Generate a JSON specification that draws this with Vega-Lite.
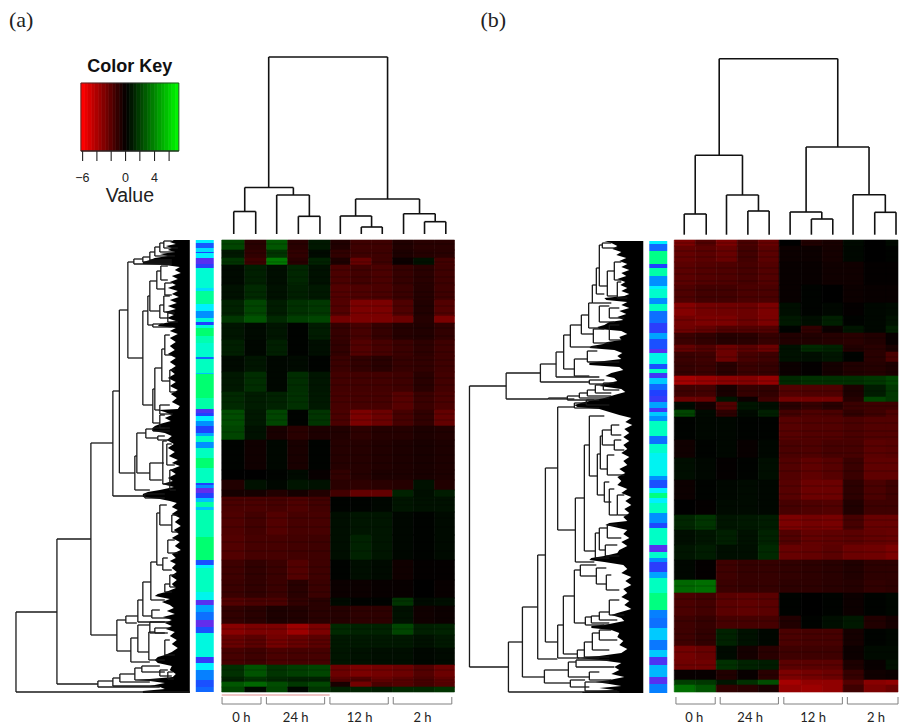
{"$schema":"https://vega.github.io/schema/vega-lite/v6.json","width":899,"height":726,"padding":0,"autosize":{"type":"fit","contains":"padding"},"background":"white","config":{"axis":{"disable":true},"legend":{"disable":true},"view":{"stroke":null}},"resolve":{"scale":{"color":"independent","stroke":"independent"}},
"datasets":{
"colsA":[{"c":1,"x":222,"x2":245},{"c":2,"x":245,"x2":267},{"c":3,"x":267,"x2":288},{"c":4,"x":288,"x2":309},{"c":5,"x":309,"x2":331},{"c":6,"x":331,"x2":351},{"c":7,"x":351,"x2":372},{"c":8,"x":372,"x2":393},{"c":9,"x":393,"x2":414},{"c":10,"x":414,"x2":435},{"c":11,"x":435,"x2":455}],
"colsB":[{"c":1,"x":675,"x2":696},{"c":2,"x":696,"x2":717},{"c":3,"x":717,"x2":738},{"c":4,"x":738,"x2":759},{"c":5,"x":759,"x2":780},{"c":6,"x":780,"x2":802},{"c":7,"x":802,"x2":823},{"c":8,"x":823,"x2":844},{"c":9,"x":844,"x2":865},{"c":10,"x":865,"x2":887},{"c":11,"x":887,"x2":899}],
"bandsA":[{"r":1,"y":240,"y2":250},{"r":2,"y":250,"y2":258},{"r":3,"y":258,"y2":265},{"r":4,"y":265,"y2":285},{"r":5,"y":285,"y2":300},{"r":6,"y":300,"y2":316},{"r":7,"y":316,"y2":323},{"r":8,"y":323,"y2":340},{"r":9,"y":340,"y2":356},{"r":10,"y":356,"y2":372},{"r":11,"y":372,"y2":392},{"r":12,"y":392,"y2":410},{"r":13,"y":410,"y2":426},{"r":14,"y":426,"y2":440},{"r":15,"y":440,"y2":470},{"r":16,"y":470,"y2":480},{"r":17,"y":480,"y2":490},{"r":18,"y":490,"y2":497},{"r":19,"y":497,"y2":512},{"r":20,"y":512,"y2":535},{"r":21,"y":535,"y2":560},{"r":22,"y":560,"y2":580},{"r":23,"y":580,"y2":598},{"r":24,"y":598,"y2":606},{"r":25,"y":606,"y2":624},{"r":26,"y":624,"y2":635},{"r":27,"y":635,"y2":648},{"r":28,"y":648,"y2":665},{"r":29,"y":665,"y2":677},{"r":30,"y":677,"y2":682},{"r":31,"y":682,"y2":687},{"r":32,"y":687,"y2":692}],
"bandsB":[{"r":1,"y":240,"y2":246},{"r":2,"y":246,"y2":262},{"r":3,"y":262,"y2":285},{"r":4,"y":285,"y2":303},{"r":5,"y":303,"y2":316},{"r":6,"y":316,"y2":326},{"r":7,"y":326,"y2":333},{"r":8,"y":333,"y2":345},{"r":9,"y":345,"y2":352},{"r":10,"y":352,"y2":362},{"r":11,"y":362,"y2":376},{"r":12,"y":376,"y2":385},{"r":13,"y":385,"y2":397},{"r":14,"y":397,"y2":402},{"r":15,"y":402,"y2":410},{"r":16,"y":410,"y2":417},{"r":17,"y":417,"y2":440},{"r":18,"y":440,"y2":458},{"r":19,"y":458,"y2":480},{"r":20,"y":480,"y2":500},{"r":21,"y":500,"y2":515},{"r":22,"y":515,"y2":530},{"r":23,"y":530,"y2":545},{"r":24,"y":545,"y2":560},{"r":25,"y":560,"y2":580},{"r":26,"y":580,"y2":593},{"r":27,"y":593,"y2":616},{"r":28,"y":616,"y2":629},{"r":29,"y":629,"y2":646},{"r":30,"y":646,"y2":660},{"r":31,"y":660,"y2":670},{"r":32,"y":670,"y2":680},{"r":33,"y":680,"y2":685},{"r":34,"y":685,"y2":692}],
"cellsA":[
{"r":1,"c":1,"v":2},{"r":1,"c":2,"v":-1},{"r":1,"c":3,"v":2.5},{"r":1,"c":4,"v":-1},{"r":1,"c":5,"v":0.7},{"r":1,"c":6,"v":-0.8},{"r":1,"c":7,"v":-1.5},{"r":1,"c":8,"v":-1.5},{"r":1,"c":9,"v":-0.8},{"r":1,"c":10,"v":-1},{"r":1,"c":11,"v":-1},
{"r":2,"c":1,"v":0.7},{"r":2,"c":2,"v":-1.2},{"r":2,"c":3,"v":1.5},{"r":2,"c":4,"v":-1.2},{"r":2,"c":5,"v":0.3},{"r":2,"c":6,"v":-1.2},{"r":2,"c":7,"v":-1.5},{"r":2,"c":8,"v":-1.5},{"r":2,"c":9,"v":-0.7},{"r":2,"c":10,"v":-0.9},{"r":2,"c":11,"v":-1},
{"r":3,"c":1,"v":1.5},{"r":3,"c":2,"v":-1.5},{"r":3,"c":3,"v":3.5},{"r":3,"c":4,"v":-1},{"r":3,"c":5,"v":1},{"r":3,"c":6,"v":-0.7},{"r":3,"c":7,"v":-2.5},{"r":3,"c":8,"v":-1.5},{"r":3,"c":9,"v":-0.3},{"r":3,"c":10,"v":0.5},{"r":3,"c":11,"v":-1.6},
{"r":4,"c":1,"v":0.3},{"r":4,"c":2,"v":0.9},{"r":4,"c":3,"v":0.4},{"r":4,"c":4,"v":1.1},{"r":4,"c":5,"v":0.5},{"r":4,"c":6,"v":-1.8},{"r":4,"c":7,"v":-1.6},{"r":4,"c":8,"v":-1.8},{"r":4,"c":9,"v":-1.3},{"r":4,"c":10,"v":-1},{"r":4,"c":11,"v":-1.5},
{"r":5,"c":1,"v":0.5},{"r":5,"c":2,"v":1.2},{"r":5,"c":3,"v":0.5},{"r":5,"c":4,"v":0.9},{"r":5,"c":5,"v":0.7},{"r":5,"c":6,"v":-2},{"r":5,"c":7,"v":-1.9},{"r":5,"c":8,"v":-1.8},{"r":5,"c":9,"v":-1.4},{"r":5,"c":10,"v":-0.9},{"r":5,"c":11,"v":-1.5},
{"r":6,"c":1,"v":1},{"r":6,"c":2,"v":2},{"r":6,"c":3,"v":0.8},{"r":6,"c":4,"v":1.4},{"r":6,"c":5,"v":1.6},{"r":6,"c":6,"v":-2},{"r":6,"c":7,"v":-3},{"r":6,"c":8,"v":-3},{"r":6,"c":9,"v":-1.9},{"r":6,"c":10,"v":-0.8},{"r":6,"c":11,"v":-2},
{"r":7,"c":1,"v":1.6},{"r":7,"c":2,"v":2.4},{"r":7,"c":3,"v":1.2},{"r":7,"c":4,"v":1.8},{"r":7,"c":5,"v":2},{"r":7,"c":6,"v":-2.8},{"r":7,"c":7,"v":-3},{"r":7,"c":8,"v":-3},{"r":7,"c":9,"v":-2.6},{"r":7,"c":10,"v":-0.9},{"r":7,"c":11,"v":-3},
{"r":8,"c":1,"v":0.6},{"r":8,"c":2,"v":0.3},{"r":8,"c":3,"v":0.6},{"r":8,"c":4,"v":0.1},{"r":8,"c":5,"v":0.8},{"r":8,"c":6,"v":-1.3},{"r":8,"c":7,"v":-1.7},{"r":8,"c":8,"v":-1.3},{"r":8,"c":9,"v":-0.9},{"r":8,"c":10,"v":-0.8},{"r":8,"c":11,"v":-1.2},
{"r":9,"c":1,"v":0.9},{"r":9,"c":2,"v":0.2},{"r":9,"c":3,"v":0.9},{"r":9,"c":4,"v":0.1},{"r":9,"c":5,"v":0.4},{"r":9,"c":6,"v":-1.2},{"r":9,"c":7,"v":-2},{"r":9,"c":8,"v":-1.7},{"r":9,"c":9,"v":-1.4},{"r":9,"c":10,"v":-1.1},{"r":9,"c":11,"v":-1.5},
{"r":10,"c":1,"v":0.3},{"r":10,"c":2,"v":0.6},{"r":10,"c":3,"v":0.2},{"r":10,"c":4,"v":0.3},{"r":10,"c":5,"v":0.1},{"r":10,"c":6,"v":-1.4},{"r":10,"c":7,"v":-1.2},{"r":10,"c":8,"v":-1},{"r":10,"c":9,"v":-1.3},{"r":10,"c":10,"v":-1.2},{"r":10,"c":11,"v":-1.5},
{"r":11,"c":1,"v":0.7},{"r":11,"c":2,"v":1.3},{"r":11,"c":3,"v":0.2},{"r":11,"c":4,"v":1.3},{"r":11,"c":5,"v":0.6},{"r":11,"c":6,"v":-1.6},{"r":11,"c":7,"v":-1.6},{"r":11,"c":8,"v":-1.6},{"r":11,"c":9,"v":-1.5},{"r":11,"c":10,"v":-1},{"r":11,"c":11,"v":-1.6},
{"r":12,"c":1,"v":1.2},{"r":12,"c":2,"v":0.8},{"r":12,"c":3,"v":1},{"r":12,"c":4,"v":1.4},{"r":12,"c":5,"v":0.7},{"r":12,"c":6,"v":-1.7},{"r":12,"c":7,"v":-1.7},{"r":12,"c":8,"v":-1.7},{"r":12,"c":9,"v":-2.1},{"r":12,"c":10,"v":-1.4},{"r":12,"c":11,"v":-1.8},
{"r":13,"c":1,"v":2.2},{"r":13,"c":2,"v":0.7},{"r":13,"c":3,"v":2},{"r":13,"c":4,"v":0.1},{"r":13,"c":5,"v":1.5},{"r":13,"c":6,"v":-1.8},{"r":13,"c":7,"v":-3},{"r":13,"c":8,"v":-2.6},{"r":13,"c":9,"v":-1.7},{"r":13,"c":10,"v":-1.2},{"r":13,"c":11,"v":-2.4},
{"r":14,"c":1,"v":2},{"r":14,"c":2,"v":0.5},{"r":14,"c":3,"v":-0.6},{"r":14,"c":4,"v":-1},{"r":14,"c":5,"v":-0.7},{"r":14,"c":6,"v":-0.8},{"r":14,"c":7,"v":-1.1},{"r":14,"c":8,"v":-0.9},{"r":14,"c":9,"v":-0.9},{"r":14,"c":10,"v":-0.7},{"r":14,"c":11,"v":-0.8},
{"r":15,"c":1,"v":0.1},{"r":15,"c":2,"v":-0.4},{"r":15,"c":3,"v":0.2},{"r":15,"c":4,"v":-0.6},{"r":15,"c":5,"v":0.1},{"r":15,"c":6,"v":-0.9},{"r":15,"c":7,"v":-0.9},{"r":15,"c":8,"v":-0.8},{"r":15,"c":9,"v":-0.7},{"r":15,"c":10,"v":-0.6},{"r":15,"c":11,"v":-0.7},
{"r":16,"c":1,"v":0},{"r":16,"c":2,"v":0},{"r":16,"c":3,"v":0.1},{"r":16,"c":4,"v":0.3},{"r":16,"c":5,"v":-0.2},{"r":16,"c":6,"v":-1.2},{"r":16,"c":7,"v":-0.9},{"r":16,"c":8,"v":-0.7},{"r":16,"c":9,"v":-0.7},{"r":16,"c":10,"v":-0.6},{"r":16,"c":11,"v":-0.7},
{"r":17,"c":1,"v":-0.8},{"r":17,"c":2,"v":0.5},{"r":17,"c":3,"v":0.2},{"r":17,"c":4,"v":0.6},{"r":17,"c":5,"v":0.5},{"r":17,"c":6,"v":-1},{"r":17,"c":7,"v":-1.1},{"r":17,"c":8,"v":-1},{"r":17,"c":9,"v":-0.9},{"r":17,"c":10,"v":0.5},{"r":17,"c":11,"v":-0.8},
{"r":18,"c":1,"v":-0.5},{"r":18,"c":2,"v":-0.5},{"r":18,"c":3,"v":-0.8},{"r":18,"c":4,"v":-0.5},{"r":18,"c":5,"v":-0.8},{"r":18,"c":6,"v":-1.6},{"r":18,"c":7,"v":-2.4},{"r":18,"c":8,"v":-2.4},{"r":18,"c":9,"v":1},{"r":18,"c":10,"v":0.4},{"r":18,"c":11,"v":0.8},
{"r":19,"c":1,"v":-1.8},{"r":19,"c":2,"v":-1.8},{"r":19,"c":3,"v":-1.7},{"r":19,"c":4,"v":-1.9},{"r":19,"c":5,"v":-1.6},{"r":19,"c":6,"v":0.1},{"r":19,"c":7,"v":0.1},{"r":19,"c":8,"v":0.2},{"r":19,"c":9,"v":0.6},{"r":19,"c":10,"v":0.5},{"r":19,"c":11,"v":0.5},
{"r":20,"c":1,"v":-1.9},{"r":20,"c":2,"v":-1.6},{"r":20,"c":3,"v":-2},{"r":20,"c":4,"v":-1.7},{"r":20,"c":5,"v":-1.7},{"r":20,"c":6,"v":0.4},{"r":20,"c":7,"v":0.6},{"r":20,"c":8,"v":0.6},{"r":20,"c":9,"v":0.2},{"r":20,"c":10,"v":0.1},{"r":20,"c":11,"v":0.3},
{"r":21,"c":1,"v":-2},{"r":21,"c":2,"v":-1.7},{"r":21,"c":3,"v":-1.7},{"r":21,"c":4,"v":-1.6},{"r":21,"c":5,"v":-1.5},{"r":21,"c":6,"v":0.4},{"r":21,"c":7,"v":1},{"r":21,"c":8,"v":0.6},{"r":21,"c":9,"v":0.2},{"r":21,"c":10,"v":0.1},{"r":21,"c":11,"v":0.3},
{"r":22,"c":1,"v":-1.5},{"r":22,"c":2,"v":-1.2},{"r":22,"c":3,"v":-1.4},{"r":22,"c":4,"v":-2},{"r":22,"c":5,"v":-1.5},{"r":22,"c":6,"v":0.1},{"r":22,"c":7,"v":0.4},{"r":22,"c":8,"v":0.3},{"r":22,"c":9,"v":-0.4},{"r":22,"c":10,"v":-0.1},{"r":22,"c":11,"v":-0.1},
{"r":23,"c":1,"v":-1.4},{"r":23,"c":2,"v":-1.2},{"r":23,"c":3,"v":-1.4},{"r":23,"c":4,"v":-1},{"r":23,"c":5,"v":-1.4},{"r":23,"c":6,"v":-0.3},{"r":23,"c":7,"v":-0.3},{"r":23,"c":8,"v":-0.2},{"r":23,"c":9,"v":-0.2},{"r":23,"c":10,"v":0},{"r":23,"c":11,"v":-0.2},
{"r":24,"c":1,"v":-2},{"r":24,"c":2,"v":-1.8},{"r":24,"c":3,"v":-1.8},{"r":24,"c":4,"v":-1.2},{"r":24,"c":5,"v":-1},{"r":24,"c":6,"v":0.3},{"r":24,"c":7,"v":0.1},{"r":24,"c":8,"v":0.1},{"r":24,"c":9,"v":1.5},{"r":24,"c":10,"v":0.3},{"r":24,"c":11,"v":0.4},
{"r":25,"c":1,"v":-1.2},{"r":25,"c":2,"v":-1},{"r":25,"c":3,"v":-0.7},{"r":25,"c":4,"v":-0.8},{"r":25,"c":5,"v":-1},{"r":25,"c":6,"v":-0.9},{"r":25,"c":7,"v":-1.1},{"r":25,"c":8,"v":-1.1},{"r":25,"c":9,"v":0.5},{"r":25,"c":10,"v":-0.4},{"r":25,"c":11,"v":-0.3},
{"r":26,"c":1,"v":-3.3},{"r":26,"c":2,"v":-3},{"r":26,"c":3,"v":-3},{"r":26,"c":4,"v":-3.8},{"r":26,"c":5,"v":-3},{"r":26,"c":6,"v":1.2},{"r":26,"c":7,"v":1},{"r":26,"c":8,"v":1},{"r":26,"c":9,"v":2},{"r":26,"c":10,"v":0.9},{"r":26,"c":11,"v":1},
{"r":27,"c":1,"v":-2.5},{"r":27,"c":2,"v":-2.2},{"r":27,"c":3,"v":-2.8},{"r":27,"c":4,"v":-2.5},{"r":27,"c":5,"v":-2.2},{"r":27,"c":6,"v":0.7},{"r":27,"c":7,"v":0.7},{"r":27,"c":8,"v":0.7},{"r":27,"c":9,"v":0.7},{"r":27,"c":10,"v":0.5},{"r":27,"c":11,"v":0.7},
{"r":28,"c":1,"v":-1.7},{"r":28,"c":2,"v":-1.5},{"r":28,"c":3,"v":-1.8},{"r":28,"c":4,"v":-1.7},{"r":28,"c":5,"v":-1.7},{"r":28,"c":6,"v":0.6},{"r":28,"c":7,"v":0.5},{"r":28,"c":8,"v":0.4},{"r":28,"c":9,"v":0.4},{"r":28,"c":10,"v":0.2},{"r":28,"c":11,"v":0.3},
{"r":29,"c":1,"v":1.4},{"r":29,"c":2,"v":2.4},{"r":29,"c":3,"v":1.5},{"r":29,"c":4,"v":1.8},{"r":29,"c":5,"v":2},{"r":29,"c":6,"v":-2.6},{"r":29,"c":7,"v":-3},{"r":29,"c":8,"v":-2.8},{"r":29,"c":9,"v":-2.6},{"r":29,"c":10,"v":-2},{"r":29,"c":11,"v":-2.6},
{"r":30,"c":1,"v":1},{"r":30,"c":2,"v":1.5},{"r":30,"c":3,"v":1.2},{"r":30,"c":4,"v":1},{"r":30,"c":5,"v":1},{"r":30,"c":6,"v":-2.2},{"r":30,"c":7,"v":-2},{"r":30,"c":8,"v":-2.5},{"r":30,"c":9,"v":-2.2},{"r":30,"c":10,"v":-1.8},{"r":30,"c":11,"v":-2.3},
{"r":31,"c":1,"v":2.5},{"r":31,"c":2,"v":3},{"r":31,"c":3,"v":2.2},{"r":31,"c":4,"v":1.6},{"r":31,"c":5,"v":2},{"r":31,"c":6,"v":-0.6},{"r":31,"c":7,"v":-2.8},{"r":31,"c":8,"v":-1.8},{"r":31,"c":9,"v":-2},{"r":31,"c":10,"v":-1.6},{"r":31,"c":11,"v":-2},
{"r":32,"c":1,"v":2},{"r":32,"c":2,"v":0.3},{"r":32,"c":3,"v":2},{"r":32,"c":4,"v":0.2},{"r":32,"c":5,"v":1.5},{"r":32,"c":6,"v":1},{"r":32,"c":7,"v":1},{"r":32,"c":8,"v":0.8},{"r":32,"c":9,"v":1.2},{"r":32,"c":10,"v":1.2},{"r":32,"c":11,"v":1.5}
],
"cellsB":[
{"r":1,"c":1,"v":-3},{"r":1,"c":2,"v":-2},{"r":1,"c":3,"v":-3},{"r":1,"c":4,"v":-1.8},{"r":1,"c":5,"v":-2.5},{"r":1,"c":6,"v":0},{"r":1,"c":7,"v":-0.8},{"r":1,"c":8,"v":-0.6},{"r":1,"c":9,"v":0.3},{"r":1,"c":10,"v":0},{"r":1,"c":11,"v":0.3},
{"r":2,"c":1,"v":-2.4},{"r":2,"c":2,"v":-2.2},{"r":2,"c":3,"v":-2.5},{"r":2,"c":4,"v":-1.6},{"r":2,"c":5,"v":-2.2},{"r":2,"c":6,"v":-0.3},{"r":2,"c":7,"v":-0.3},{"r":2,"c":8,"v":-0.5},{"r":2,"c":9,"v":0.2},{"r":2,"c":10,"v":0},{"r":2,"c":11,"v":0.1},
{"r":3,"c":1,"v":-2.2},{"r":3,"c":2,"v":-2},{"r":3,"c":3,"v":-1.9},{"r":3,"c":4,"v":-1.7},{"r":3,"c":5,"v":-2},{"r":3,"c":6,"v":-0.2},{"r":3,"c":7,"v":-0.2},{"r":3,"c":8,"v":-0.4},{"r":3,"c":9,"v":-0.4},{"r":3,"c":10,"v":-0.1},{"r":3,"c":11,"v":-0.1},
{"r":4,"c":1,"v":-1.9},{"r":4,"c":2,"v":-1.6},{"r":4,"c":3,"v":-1.6},{"r":4,"c":4,"v":-1.8},{"r":4,"c":5,"v":-1.8},{"r":4,"c":6,"v":-0.2},{"r":4,"c":7,"v":0.1},{"r":4,"c":8,"v":0},{"r":4,"c":9,"v":-0.3},{"r":4,"c":10,"v":-0.2},{"r":4,"c":11,"v":-0.2},
{"r":5,"c":1,"v":-3.2},{"r":5,"c":2,"v":-2.8},{"r":5,"c":3,"v":-2.7},{"r":5,"c":4,"v":-2.6},{"r":5,"c":5,"v":-3},{"r":5,"c":6,"v":0.4},{"r":5,"c":7,"v":0.1},{"r":5,"c":8,"v":0.2},{"r":5,"c":9,"v":-0.1},{"r":5,"c":10,"v":0.2},{"r":5,"c":11,"v":0.3},
{"r":6,"c":1,"v":-2.8},{"r":6,"c":2,"v":-3},{"r":6,"c":3,"v":-3},{"r":6,"c":4,"v":-2.6},{"r":6,"c":5,"v":-3},{"r":6,"c":6,"v":0.7},{"r":6,"c":7,"v":0.4},{"r":6,"c":8,"v":0.9},{"r":6,"c":9,"v":0.1},{"r":6,"c":10,"v":0.2},{"r":6,"c":11,"v":0.5},
{"r":7,"c":1,"v":-2.7},{"r":7,"c":2,"v":-2.4},{"r":7,"c":3,"v":-2},{"r":7,"c":4,"v":-2},{"r":7,"c":5,"v":-2},{"r":7,"c":6,"v":0.1},{"r":7,"c":7,"v":-1.2},{"r":7,"c":8,"v":-0.3},{"r":7,"c":9,"v":0.6},{"r":7,"c":10,"v":0.2},{"r":7,"c":11,"v":0.9},
{"r":8,"c":1,"v":-1.4},{"r":8,"c":2,"v":-1.2},{"r":8,"c":3,"v":-0.9},{"r":8,"c":4,"v":-1},{"r":8,"c":5,"v":-1.3},{"r":8,"c":6,"v":-0.8},{"r":8,"c":7,"v":-0.8},{"r":8,"c":8,"v":-0.9},{"r":8,"c":9,"v":-1},{"r":8,"c":10,"v":-0.8},{"r":8,"c":11,"v":-0.2},
{"r":9,"c":1,"v":-2.4},{"r":9,"c":2,"v":-2},{"r":9,"c":3,"v":-2.6},{"r":9,"c":4,"v":-2.2},{"r":9,"c":5,"v":-2.6},{"r":9,"c":6,"v":0.5},{"r":9,"c":7,"v":1.2},{"r":9,"c":8,"v":1},{"r":9,"c":9,"v":-0.8},{"r":9,"c":10,"v":-1},{"r":9,"c":11,"v":-0.6},
{"r":10,"c":1,"v":-1.4},{"r":10,"c":2,"v":-1.5},{"r":10,"c":3,"v":-2.6},{"r":10,"c":4,"v":-1.7},{"r":10,"c":5,"v":-1.5},{"r":10,"c":6,"v":0.5},{"r":10,"c":7,"v":0.4},{"r":10,"c":8,"v":0.6},{"r":10,"c":9,"v":0.1},{"r":10,"c":10,"v":-1},{"r":10,"c":11,"v":-1.8},
{"r":11,"c":1,"v":-1.3},{"r":11,"c":2,"v":-1.4},{"r":11,"c":3,"v":-1},{"r":11,"c":4,"v":-1.4},{"r":11,"c":5,"v":-1.3},{"r":11,"c":6,"v":-0.3},{"r":11,"c":7,"v":-0.1},{"r":11,"c":8,"v":-0.5},{"r":11,"c":9,"v":-0.8},{"r":11,"c":10,"v":-0.9},{"r":11,"c":11,"v":-0.7},
{"r":12,"c":1,"v":-4},{"r":12,"c":2,"v":-3.7},{"r":12,"c":3,"v":-3.4},{"r":12,"c":4,"v":-3.2},{"r":12,"c":5,"v":-3.6},{"r":12,"c":6,"v":1.2},{"r":12,"c":7,"v":1.4},{"r":12,"c":8,"v":1.4},{"r":12,"c":9,"v":1.4},{"r":12,"c":10,"v":1.6},{"r":12,"c":11,"v":2},
{"r":13,"c":1,"v":-1.5},{"r":13,"c":2,"v":-1.6},{"r":13,"c":3,"v":-0.6},{"r":13,"c":4,"v":-1.3},{"r":13,"c":5,"v":-1.2},{"r":13,"c":6,"v":-2},{"r":13,"c":7,"v":-1.9},{"r":13,"c":8,"v":-1.9},{"r":13,"c":9,"v":-0.7},{"r":13,"c":10,"v":0.8},{"r":13,"c":11,"v":1.6},
{"r":14,"c":1,"v":-2.6},{"r":14,"c":2,"v":-2.5},{"r":14,"c":3,"v":0.6},{"r":14,"c":4,"v":-0.3},{"r":14,"c":5,"v":-1.5},{"r":14,"c":6,"v":-2.8},{"r":14,"c":7,"v":-2.8},{"r":14,"c":8,"v":-2.8},{"r":14,"c":9,"v":-0.9},{"r":14,"c":10,"v":2},{"r":14,"c":11,"v":1.6},
{"r":15,"c":1,"v":0.3},{"r":15,"c":2,"v":-0.5},{"r":15,"c":3,"v":-2},{"r":15,"c":4,"v":0.6},{"r":15,"c":5,"v":0.4},{"r":15,"c":6,"v":-1},{"r":15,"c":7,"v":-1.3},{"r":15,"c":8,"v":-1},{"r":15,"c":9,"v":-1.4},{"r":15,"c":10,"v":-1.5},{"r":15,"c":11,"v":-1.5},
{"r":16,"c":1,"v":2},{"r":16,"c":2,"v":0.3},{"r":16,"c":3,"v":-1.1},{"r":16,"c":4,"v":0.3},{"r":16,"c":5,"v":0.9},{"r":16,"c":6,"v":-1.6},{"r":16,"c":7,"v":-1.9},{"r":16,"c":8,"v":-1.8},{"r":16,"c":9,"v":-1.2},{"r":16,"c":10,"v":-1.5},{"r":16,"c":11,"v":-1.9},
{"r":17,"c":1,"v":0.1},{"r":17,"c":2,"v":0.2},{"r":17,"c":3,"v":0.2},{"r":17,"c":4,"v":0.1},{"r":17,"c":5,"v":0.1},{"r":17,"c":6,"v":-2.1},{"r":17,"c":7,"v":-2},{"r":17,"c":8,"v":-2},{"r":17,"c":9,"v":-1.8},{"r":17,"c":10,"v":-2},{"r":17,"c":11,"v":-2},
{"r":18,"c":1,"v":-0.4},{"r":18,"c":2,"v":0.1},{"r":18,"c":3,"v":0.2},{"r":18,"c":4,"v":-0.2},{"r":18,"c":5,"v":0.2},{"r":18,"c":6,"v":-1.8},{"r":18,"c":7,"v":-1.9},{"r":18,"c":8,"v":-1.7},{"r":18,"c":9,"v":-1.7},{"r":18,"c":10,"v":-2.2},{"r":18,"c":11,"v":-2.1},
{"r":19,"c":1,"v":0.4},{"r":19,"c":2,"v":0.2},{"r":19,"c":3,"v":-0.1},{"r":19,"c":4,"v":0.1},{"r":19,"c":5,"v":0.4},{"r":19,"c":6,"v":-2},{"r":19,"c":7,"v":-2.3},{"r":19,"c":8,"v":-2.1},{"r":19,"c":9,"v":-1.4},{"r":19,"c":10,"v":-2.3},{"r":19,"c":11,"v":-2.3},
{"r":20,"c":1,"v":-0.3},{"r":20,"c":2,"v":0.1},{"r":20,"c":3,"v":0.2},{"r":20,"c":4,"v":0.3},{"r":20,"c":5,"v":0.2},{"r":20,"c":6,"v":-2.1},{"r":20,"c":7,"v":-2.6},{"r":20,"c":8,"v":-2.6},{"r":20,"c":9,"v":-1.1},{"r":20,"c":10,"v":-1.8},{"r":20,"c":11,"v":-1.5},
{"r":21,"c":1,"v":0},{"r":21,"c":2,"v":-0.1},{"r":21,"c":3,"v":0.3},{"r":21,"c":4,"v":0.3},{"r":21,"c":5,"v":0.2},{"r":21,"c":6,"v":-1.7},{"r":21,"c":7,"v":-1.9},{"r":21,"c":8,"v":-2},{"r":21,"c":9,"v":-0.8},{"r":21,"c":10,"v":-1.5},{"r":21,"c":11,"v":-1.5},
{"r":22,"c":1,"v":1.1},{"r":22,"c":2,"v":1.5},{"r":22,"c":3,"v":0.6},{"r":22,"c":4,"v":0.7},{"r":22,"c":5,"v":0.8},{"r":22,"c":6,"v":-3},{"r":22,"c":7,"v":-2.8},{"r":22,"c":8,"v":-2.9},{"r":22,"c":9,"v":-1.7},{"r":22,"c":10,"v":-2.5},{"r":22,"c":11,"v":-2.5},
{"r":23,"c":1,"v":0.4},{"r":23,"c":2,"v":0.6},{"r":23,"c":3,"v":0.9},{"r":23,"c":4,"v":0.5},{"r":23,"c":5,"v":1},{"r":23,"c":6,"v":-2},{"r":23,"c":7,"v":-2.4},{"r":23,"c":8,"v":-2.3},{"r":23,"c":9,"v":-2.2},{"r":23,"c":10,"v":-2.4},{"r":23,"c":11,"v":-2.5},
{"r":24,"c":1,"v":0.6},{"r":24,"c":2,"v":0.8},{"r":24,"c":3,"v":0.4},{"r":24,"c":4,"v":0.4},{"r":24,"c":5,"v":1.2},{"r":24,"c":6,"v":-2.5},{"r":24,"c":7,"v":-2.4},{"r":24,"c":8,"v":-2.2},{"r":24,"c":9,"v":-2.6},{"r":24,"c":10,"v":-2.7},{"r":24,"c":11,"v":-3},
{"r":25,"c":1,"v":0.2},{"r":25,"c":2,"v":-0.1},{"r":25,"c":3,"v":-1.5},{"r":25,"c":4,"v":-1.3},{"r":25,"c":5,"v":-1.3},{"r":25,"c":6,"v":-1.2},{"r":25,"c":7,"v":-1.1},{"r":25,"c":8,"v":-1},{"r":25,"c":9,"v":-0.8},{"r":25,"c":10,"v":-1.1},{"r":25,"c":11,"v":-1.1},
{"r":26,"c":1,"v":3},{"r":26,"c":2,"v":3.2},{"r":26,"c":3,"v":-1.4},{"r":26,"c":4,"v":-1.3},{"r":26,"c":5,"v":-1.3},{"r":26,"c":6,"v":-1.1},{"r":26,"c":7,"v":-1.1},{"r":26,"c":8,"v":-1},{"r":26,"c":9,"v":-0.9},{"r":26,"c":10,"v":-1.2},{"r":26,"c":11,"v":-1.1},
{"r":27,"c":1,"v":-1.8},{"r":27,"c":2,"v":-1.6},{"r":27,"c":3,"v":-2.2},{"r":27,"c":4,"v":-2.3},{"r":27,"c":5,"v":-2.2},{"r":27,"c":6,"v":0.1},{"r":27,"c":7,"v":0},{"r":27,"c":8,"v":0.1},{"r":27,"c":9,"v":-0.3},{"r":27,"c":10,"v":0.1},{"r":27,"c":11,"v":0.2},
{"r":28,"c":1,"v":-1.5},{"r":28,"c":2,"v":-1.3},{"r":28,"c":3,"v":-1.7},{"r":28,"c":4,"v":-1.7},{"r":28,"c":5,"v":-1.7},{"r":28,"c":6,"v":-0.8},{"r":28,"c":7,"v":0.1},{"r":28,"c":8,"v":0.4},{"r":28,"c":9,"v":0.7},{"r":28,"c":10,"v":-0.8},{"r":28,"c":11,"v":-0.5},
{"r":29,"c":1,"v":-1.5},{"r":29,"c":2,"v":-1.2},{"r":29,"c":3,"v":1},{"r":29,"c":4,"v":0.5},{"r":29,"c":5,"v":0.2},{"r":29,"c":6,"v":-1.8},{"r":29,"c":7,"v":-1.7},{"r":29,"c":8,"v":-1.7},{"r":29,"c":9,"v":-0.5},{"r":29,"c":10,"v":0.1},{"r":29,"c":11,"v":0.2},
{"r":30,"c":1,"v":-2.8},{"r":30,"c":2,"v":-2.5},{"r":30,"c":3,"v":0.3},{"r":30,"c":4,"v":-0.5},{"r":30,"c":5,"v":-1},{"r":30,"c":6,"v":-1.5},{"r":30,"c":7,"v":-1.5},{"r":30,"c":8,"v":-1.5},{"r":30,"c":9,"v":-0.3},{"r":30,"c":10,"v":0.3},{"r":30,"c":11,"v":0.3},
{"r":31,"c":1,"v":-2.7},{"r":31,"c":2,"v":-2.7},{"r":31,"c":3,"v":1.4},{"r":31,"c":4,"v":1},{"r":31,"c":5,"v":0.8},{"r":31,"c":6,"v":-2.2},{"r":31,"c":7,"v":-2.2},{"r":31,"c":8,"v":-2.2},{"r":31,"c":9,"v":-0.7},{"r":31,"c":10,"v":-0.2},{"r":31,"c":11,"v":0.5},
{"r":32,"c":1,"v":-0.2},{"r":32,"c":2,"v":-0.2},{"r":32,"c":3,"v":-0.8},{"r":32,"c":4,"v":-0.2},{"r":32,"c":5,"v":-1},{"r":32,"c":6,"v":-3},{"r":32,"c":7,"v":-2.8},{"r":32,"c":8,"v":-2.6},{"r":32,"c":9,"v":-1.3},{"r":32,"c":10,"v":-0.4},{"r":32,"c":11,"v":-0.3},
{"r":33,"c":1,"v":1.8},{"r":33,"c":2,"v":1.6},{"r":33,"c":3,"v":0.6},{"r":33,"c":4,"v":1.4},{"r":33,"c":5,"v":2.2},{"r":33,"c":6,"v":-4},{"r":33,"c":7,"v":-3.5},{"r":33,"c":8,"v":-3.5},{"r":33,"c":9,"v":-2},{"r":33,"c":10,"v":-3.3},{"r":33,"c":11,"v":-3.5},
{"r":34,"c":1,"v":3.2},{"r":34,"c":2,"v":2.4},{"r":34,"c":3,"v":-1.2},{"r":34,"c":4,"v":-1},{"r":34,"c":5,"v":-0.6},{"r":34,"c":6,"v":-3.6},{"r":34,"c":7,"v":-3.8},{"r":34,"c":8,"v":-3.5},{"r":34,"c":9,"v":-1.5},{"r":34,"c":10,"v":-3},{"r":34,"c":11,"v":-2.6}
],
"stripesA":[{"y":244},{"y":253},{"y":262},{"y":270},{"y":277},{"y":283},{"y":292},{"y":297},{"y":306},{"y":313},{"y":328},{"y":336},{"y":345},{"y":352},{"y":360},{"y":366},{"y":378},{"y":385},{"y":396},{"y":402},{"y":414},{"y":420},{"y":432},{"y":446},{"y":455},{"y":463},{"y":474},{"y":500},{"y":505},{"y":518},{"y":527},{"y":542},{"y":551},{"y":567},{"y":574},{"y":585},{"y":592},{"y":601},{"y":611},{"y":618},{"y":629},{"y":640},{"y":644},{"y":653},{"y":660},{"y":670},{"y":680}],
"stripesB":[{"y":243},{"y":251},{"y":257},{"y":268},{"y":274},{"y":281},{"y":290},{"y":297},{"y":308},{"y":320},{"y":330},{"y":338},{"y":349},{"y":357},{"y":366},{"y":372},{"y":381},{"y":391},{"y":406},{"y":414},{"y":423},{"y":431},{"y":437},{"y":446},{"y":453},{"y":463},{"y":471},{"y":486},{"y":494},{"y":506},{"y":520},{"y":527},{"y":536},{"y":541},{"y":552},{"y":565},{"y":572},{"y":586},{"y":599},{"y":607},{"y":621},{"y":634},{"y":640},{"y":652},{"y":665},{"y":675}],
"sideA":[{"y":240,"y2":243,"m":3},{"y":243,"y2":248,"m":1.3},{"y":248,"y2":252,"m":2.8},{"y":252,"y2":253,"m":1},{"y":253,"y2":258,"m":3},{"y":258,"y2":264,"m":0.5},{"y":264,"y2":268,"m":0.9},{"y":268,"y2":288,"m":3.7},{"y":288,"y2":291,"m":2.8},{"y":291,"y2":304,"m":4.5},{"y":304,"y2":311,"m":3},{"y":311,"y2":318,"m":2},{"y":318,"y2":322,"m":3.6},{"y":322,"y2":325,"m":1},{"y":325,"y2":328,"m":3.6},{"y":328,"y2":336,"m":5},{"y":336,"y2":343,"m":4.2},{"y":343,"y2":357,"m":3.8},{"y":357,"y2":359,"m":1.5},{"y":359,"y2":373,"m":4},{"y":373,"y2":374,"m":2.5},{"y":374,"y2":398,"m":5},{"y":398,"y2":409,"m":4.3},{"y":409,"y2":413,"m":0.6},{"y":413,"y2":416,"m":1},{"y":416,"y2":421,"m":3},{"y":421,"y2":426,"m":2},{"y":426,"y2":433,"m":1},{"y":433,"y2":436,"m":2.2},{"y":436,"y2":442,"m":4},{"y":442,"y2":448,"m":2},{"y":448,"y2":458,"m":4},{"y":458,"y2":468,"m":5},{"y":468,"y2":483,"m":4},{"y":483,"y2":485,"m":1},{"y":485,"y2":488,"m":2},{"y":488,"y2":493,"m":0.4},{"y":493,"y2":498,"m":1},{"y":498,"y2":502,"m":2.5},{"y":502,"y2":507,"m":4.3},{"y":507,"y2":510,"m":2.5},{"y":510,"y2":537,"m":4.2},{"y":537,"y2":560,"m":5},{"y":560,"y2":565,"m":1.2},{"y":565,"y2":568,"m":3},{"y":568,"y2":592,"m":4},{"y":592,"y2":600,"m":3.3},{"y":600,"y2":605,"m":0.5},{"y":605,"y2":612,"m":2.2},{"y":612,"y2":620,"m":1.6},{"y":620,"y2":627,"m":0.4},{"y":627,"y2":633,"m":1.2},{"y":633,"y2":637,"m":3.5},{"y":637,"y2":657,"m":3.5},{"y":657,"y2":663,"m":0.8},{"y":663,"y2":670,"m":3},{"y":670,"y2":680,"m":1.8},{"y":680,"y2":687,"m":1.2},{"y":687,"y2":692,"m":1.5}],
"sideB":[{"y":241,"y2":244,"m":3},{"y":244,"y2":251,"m":1.5},{"y":251,"y2":264,"m":4.7},{"y":264,"y2":268,"m":1},{"y":268,"y2":276,"m":4.3},{"y":276,"y2":286,"m":2},{"y":286,"y2":289,"m":3},{"y":289,"y2":298,"m":3.8},{"y":298,"y2":304,"m":2},{"y":304,"y2":311,"m":4},{"y":311,"y2":323,"m":1.6},{"y":323,"y2":333,"m":0.9},{"y":333,"y2":339,"m":2.2},{"y":339,"y2":349,"m":1.2},{"y":349,"y2":353,"m":0.5},{"y":353,"y2":364,"m":3.4},{"y":364,"y2":369,"m":1.2},{"y":369,"y2":373,"m":4},{"y":373,"y2":378,"m":0.7},{"y":378,"y2":384,"m":2.6},{"y":384,"y2":390,"m":1.5},{"y":390,"y2":396,"m":1},{"y":396,"y2":402,"m":0.8},{"y":402,"y2":408,"m":2.2},{"y":408,"y2":412,"m":0.7},{"y":412,"y2":416,"m":2.6},{"y":416,"y2":421,"m":2},{"y":421,"y2":436,"m":4},{"y":436,"y2":444,"m":1.6},{"y":444,"y2":453,"m":3.8},{"y":453,"y2":476,"m":3.2},{"y":476,"y2":480,"m":2},{"y":480,"y2":488,"m":1.2},{"y":488,"y2":493,"m":3},{"y":493,"y2":498,"m":4.8},{"y":498,"y2":503,"m":3},{"y":503,"y2":513,"m":4},{"y":513,"y2":523,"m":2},{"y":523,"y2":528,"m":1.1},{"y":528,"y2":545,"m":3.9},{"y":545,"y2":552,"m":0.5},{"y":552,"y2":558,"m":3.8},{"y":558,"y2":562,"m":2},{"y":562,"y2":572,"m":0.9},{"y":572,"y2":578,"m":2.2},{"y":578,"y2":593,"m":4},{"y":593,"y2":610,"m":4.8},{"y":610,"y2":618,"m":1.8},{"y":618,"y2":628,"m":1.6},{"y":628,"y2":640,"m":2.6},{"y":640,"y2":650,"m":1.7},{"y":650,"y2":657,"m":2.6},{"y":657,"y2":665,"m":0.6},{"y":665,"y2":677,"m":2.4},{"y":677,"y2":684,"m":0.5},{"y":684,"y2":693,"m":1.8}],
"sidePos":[{"p":"a","x":196,"x2":214},{"p":"b","x":650,"x2":668}],
"massA":[{"y":240,"x":174},{"y":242,"x":170},{"y":244,"x":176},{"y":246,"x":166},{"y":248,"x":172},{"y":250,"x":168},{"y":252,"x":175},{"y":254,"x":160},{"y":256,"x":168},{"y":258,"x":155},{"y":260,"x":150},{"y":262,"x":143},{"y":264,"x":143},{"y":265,"x":165},{"y":267,"x":180},{"y":270,"x":175},{"y":273,"x":181},{"y":276,"x":172},{"y":279,"x":178},{"y":282,"x":170},{"y":285,"x":176},{"y":288,"x":168},{"y":291,"x":178},{"y":294,"x":172},{"y":297,"x":179},{"y":300,"x":170},{"y":303,"x":177},{"y":306,"x":168},{"y":309,"x":176},{"y":312,"x":165},{"y":315,"x":174},{"y":318,"x":167},{"y":321,"x":176},{"y":324,"x":160},{"y":326,"x":158},{"y":328,"x":176},{"y":331,"x":170},{"y":334,"x":178},{"y":338,"x":170},{"y":342,"x":176},{"y":346,"x":170},{"y":350,"x":175},{"y":354,"x":168},{"y":358,"x":176},{"y":362,"x":170},{"y":366,"x":176},{"y":370,"x":170},{"y":374,"x":175},{"y":378,"x":168},{"y":382,"x":176},{"y":386,"x":170},{"y":390,"x":178},{"y":394,"x":171},{"y":398,"x":177},{"y":402,"x":172},{"y":406,"x":180},{"y":409,"x":178},{"y":410,"x":158},{"y":412,"x":165},{"y":415,"x":172},{"y":418,"x":165},{"y":421,"x":171},{"y":424,"x":160},{"y":426,"x":155},{"y":428,"x":153},{"y":431,"x":153},{"y":433,"x":165},{"y":436,"x":172},{"y":440,"x":167},{"y":444,"x":174},{"y":448,"x":168},{"y":452,"x":175},{"y":456,"x":169},{"y":460,"x":178},{"y":463,"x":172},{"y":466,"x":180},{"y":470,"x":170},{"y":474,"x":176},{"y":478,"x":168},{"y":481,"x":173},{"y":484,"x":162},{"y":487,"x":174},{"y":490,"x":160},{"y":492,"x":148},{"y":494,"x":143},{"y":497,"x":143},{"y":499,"x":160},{"y":501,"x":170},{"y":503,"x":177},{"y":507,"x":172},{"y":510,"x":178},{"y":514,"x":172},{"y":518,"x":180},{"y":522,"x":175},{"y":526,"x":181},{"y":530,"x":174},{"y":534,"x":179},{"y":538,"x":172},{"y":542,"x":180},{"y":546,"x":175},{"y":550,"x":181},{"y":554,"x":172},{"y":558,"x":176},{"y":561,"x":170},{"y":564,"x":176},{"y":568,"x":172},{"y":572,"x":177},{"y":576,"x":171},{"y":580,"x":177},{"y":584,"x":172},{"y":588,"x":176},{"y":592,"x":166},{"y":594,"x":158},{"y":596,"x":155},{"y":599,"x":170},{"y":602,"x":162},{"y":605,"x":170},{"y":608,"x":174},{"y":611,"x":167},{"y":614,"x":175},{"y":617,"x":163},{"y":620,"x":172},{"y":623,"x":165},{"y":626,"x":172},{"y":629,"x":166},{"y":632,"x":175},{"y":636,"x":170},{"y":640,"x":177},{"y":644,"x":172},{"y":648,"x":178},{"y":652,"x":172},{"y":655,"x":165},{"y":657,"x":158},{"y":660,"x":155},{"y":663,"x":158},{"y":666,"x":172},{"y":670,"x":170},{"y":674,"x":176},{"y":677,"x":173},{"y":679,"x":150},{"y":680,"x":135},{"y":681,"x":150},{"y":683,"x":165},{"y":686,"x":150},{"y":687,"x":160},{"y":689,"x":165},{"y":691,"x":143},{"y":693,"x":143}],
"massB":[{"y":241,"x":605},{"y":243,"x":612},{"y":246,"x":618},{"y":249,"x":613},{"y":252,"x":622},{"y":255,"x":617},{"y":258,"x":627},{"y":261,"x":620},{"y":264,"x":628},{"y":267,"x":622},{"y":270,"x":630},{"y":273,"x":622},{"y":276,"x":627},{"y":279,"x":618},{"y":282,"x":626},{"y":285,"x":621},{"y":288,"x":628},{"y":291,"x":622},{"y":294,"x":630},{"y":296,"x":625},{"y":298,"x":605},{"y":300,"x":607},{"y":302,"x":628},{"y":305,"x":622},{"y":308,"x":630},{"y":311,"x":620},{"y":314,"x":627},{"y":317,"x":618},{"y":320,"x":624},{"y":322,"x":610},{"y":325,"x":605},{"y":327,"x":598},{"y":329,"x":600},{"y":331,"x":622},{"y":334,"x":628},{"y":337,"x":620},{"y":340,"x":622},{"y":342,"x":608},{"y":344,"x":604},{"y":346,"x":592},{"y":348,"x":590},{"y":350,"x":615},{"y":353,"x":623},{"y":356,"x":618},{"y":359,"x":622},{"y":361,"x":605},{"y":363,"x":590},{"y":365,"x":590},{"y":367,"x":620},{"y":370,"x":624},{"y":373,"x":612},{"y":376,"x":606},{"y":378,"x":615},{"y":381,"x":618},{"y":384,"x":605},{"y":386,"x":600},{"y":389,"x":622},{"y":392,"x":626},{"y":395,"x":615},{"y":398,"x":605},{"y":400,"x":595},{"y":402,"x":585},{"y":405,"x":575},{"y":407,"x":578},{"y":409,"x":600},{"y":412,"x":610},{"y":415,"x":620},{"y":418,"x":632},{"y":422,"x":626},{"y":425,"x":633},{"y":429,"x":625},{"y":433,"x":630},{"y":437,"x":624},{"y":441,"x":630},{"y":445,"x":624},{"y":449,"x":628},{"y":453,"x":622},{"y":457,"x":630},{"y":461,"x":624},{"y":465,"x":628},{"y":469,"x":620},{"y":473,"x":626},{"y":477,"x":618},{"y":481,"x":622},{"y":485,"x":618},{"y":489,"x":628},{"y":493,"x":622},{"y":497,"x":632},{"y":501,"x":626},{"y":505,"x":632},{"y":509,"x":625},{"y":513,"x":630},{"y":517,"x":624},{"y":521,"x":628},{"y":523,"x":610},{"y":525,"x":606},{"y":527,"x":615},{"y":530,"x":628},{"y":534,"x":624},{"y":538,"x":630},{"y":542,"x":622},{"y":546,"x":628},{"y":550,"x":620},{"y":553,"x":618},{"y":556,"x":605},{"y":558,"x":592},{"y":560,"x":590},{"y":562,"x":605},{"y":565,"x":624},{"y":569,"x":628},{"y":573,"x":622},{"y":577,"x":632},{"y":581,"x":626},{"y":585,"x":632},{"y":589,"x":624},{"y":593,"x":628},{"y":597,"x":622},{"y":601,"x":630},{"y":605,"x":625},{"y":609,"x":632},{"y":613,"x":618},{"y":615,"x":612},{"y":618,"x":622},{"y":621,"x":625},{"y":624,"x":610},{"y":626,"x":592},{"y":628,"x":592},{"y":630,"x":612},{"y":633,"x":620},{"y":637,"x":618},{"y":641,"x":624},{"y":645,"x":620},{"y":649,"x":628},{"y":653,"x":622},{"y":656,"x":600},{"y":658,"x":578},{"y":660,"x":600},{"y":663,"x":622},{"y":667,"x":615},{"y":670,"x":620},{"y":674,"x":612},{"y":677,"x":625},{"y":680,"x":610},{"y":682,"x":596},{"y":684,"x":610},{"y":686,"x":622},{"y":688,"x":600},{"y":690,"x":615},{"y":692,"x":583},{"y":693,"x":583}],
"rowNodes":[
{"h":16,"t":612,"b":692,"l":57,"m":190},{"h":57,"t":539,"b":684,"l":91,"m":98},{"h":91,"t":443,"b":635,"l":113,"m":117},{"h":113,"t":391,"b":496,"l":119.5,"m":145},{"h":119.5,"t":310,"b":473,"l":128,"m":135},{"h":128,"t":262,"b":358,"l":134,"m":143},
{"h":134,"t":259,"b":264,"l":143,"m":172},{"h":143,"t":257,"b":262,"l":150,"m":172},{"h":150,"t":252,"b":260,"l":155,"m":172},{"h":155,"t":247,"b":256,"l":160,"m":175},{"h":160,"t":243,"b":252,"l":164,"m":175},{"h":164,"t":241,"b":248,"l":172,"m":178},
{"h":143,"t":311,"b":405,"l":148,"m":153},{"h":148,"t":296,"b":325,"l":150,"m":153},{"h":150,"t":281,"b":311,"l":157,"m":160},{"h":157,"t":271,"b":289,"l":161,"m":165},{"h":161,"t":266,"b":280,"l":168,"m":168},{"h":165,"t":283,"b":295,"l":172,"m":172},{"h":160,"t":305,"b":318,"l":164,"m":168},{"h":164,"t":296,"b":312,"l":170,"m":174},{"h":168,"t":313,"b":322,"l":175,"m":178},{"h":153,"t":324,"b":327,"l":163,"m":172},
{"h":153,"t":389,"b":423,"l":155,"m":160},{"h":155,"t":368,"b":410,"l":162,"m":160},{"h":162,"t":349,"b":381,"l":165,"m":170},{"h":165,"t":335,"b":355,"l":170,"m":172},{"h":170,"t":370,"b":392,"l":175,"m":176},{"h":160,"t":405,"b":414,"l":170,"m":173},{"h":160,"t":415,"b":428,"l":165,"m":170},
{"h":135,"t":456,"b":490,"l":137,"m":150},{"h":137,"t":433,"b":473,"l":146,"m":150},{"h":146,"t":429,"b":438,"l":153,"m":158},{"h":153,"t":428,"b":431,"l":165,"m":170},{"h":158,"t":436,"b":440,"l":165,"m":172},{"h":150,"t":463,"b":480,"l":164,"m":162},{"h":163,"t":441,"b":484,"l":167,"m":170},{"h":167,"t":444,"b":465,"l":172,"m":175},{"h":170,"t":470,"b":490,"l":175,"m":176},{"h":145,"t":494,"b":498,"l":165,"m":165},
{"h":117,"t":620,"b":651,"l":126,"m":131},{"h":126,"t":616,"b":623,"l":138,"m":137},{"h":138,"t":600,"b":622,"l":143,"m":170},{"h":143,"t":582,"b":616,"l":151,"m":152},{"h":151,"t":562,"b":600,"l":157,"m":165},{"h":157,"t":513,"b":565,"l":160,"m":163},{"h":163,"t":558,"b":570,"l":168,"m":172},{"h":160,"t":505,"b":525,"l":167,"m":172},{"h":172,"t":515,"b":532,"l":178,"m":178},{"h":168,"t":540,"b":553,"l":175,"m":178},{"h":165,"t":584,"b":592,"l":170,"m":172},{"h":170,"t":575,"b":587,"l":176,"m":176},{"h":152,"t":610,"b":618,"l":160,"m":170},
{"h":131,"t":638,"b":662,"l":138,"m":150},{"h":138,"t":625,"b":652,"l":150,"m":149},{"h":149,"t":632,"b":660,"l":155,"m":165},{"h":155,"t":628,"b":633,"l":170,"m":168},{"h":165,"t":640,"b":655,"l":170,"m":175},{"h":150,"t":622,"b":633,"l":165,"m":165},
{"h":98,"t":681,"b":687,"l":113,"m":160},{"h":113,"t":678,"b":686,"l":120,"m":155},{"h":120,"t":674,"b":682,"l":135,"m":150},{"h":135,"t":668,"b":680,"l":142,"m":160},{"h":142,"t":666,"b":672,"l":160,"m":165},{"h":160,"t":670,"b":676,"l":168,"m":172},{"h":168,"t":672,"b":679,"l":173,"m":174},
{"h":470,"t":386,"b":667,"l":506.7,"m":509},{"h":506.7,"t":373,"b":399,"l":541,"m":549},{"h":541,"t":364,"b":382,"l":556.7,"m":590},{"h":556.7,"t":352,"b":377,"l":564.3,"m":600},{"h":564.3,"t":335,"b":369,"l":571,"m":575},{"h":575,"t":359,"b":376,"l":588,"m":590},{"h":588,"t":351,"b":362,"l":598,"m":620},{"h":571,"t":325,"b":347,"l":582,"m":598},{"h":582,"t":315,"b":334,"l":589.3,"m":594},{"h":589.3,"t":303,"b":328,"l":593,"m":600},{"h":593,"t":285,"b":303,"l":597,"m":612},{"h":597,"t":268,"b":294,"l":600,"m":605},{"h":600,"t":245,"b":286,"l":603,"m":608},{"h":603,"t":243,"b":248,"l":612,"m":618},{"h":608,"t":271,"b":296,"l":615,"m":618},{"h":615,"t":262,"b":280,"l":622,"m":622},{"h":618,"t":282,"b":298,"l":622,"m":628},{"h":594,"t":329,"b":343,"l":605,"m":610},{"h":610,"t":325,"b":340,"l":620,"m":622},{"h":600,"t":306,"b":322,"l":610,"m":615},{"h":610,"t":308,"b":318,"l":620,"m":625},{"h":590,"t":380,"b":384,"l":605,"m":610},
{"h":549,"t":398,"b":399,"l":568,"m":575},{"h":568,"t":396,"b":400,"l":580,"m":600},{"h":580,"t":393,"b":398,"l":588,"m":610},{"h":588,"t":390,"b":396,"l":596,"m":612},{"h":596,"t":385,"b":393,"l":604,"m":612},{"h":604,"t":383,"b":390,"l":615,"m":620},
{"h":509,"t":642,"b":692,"l":523,"m":620},{"h":523,"t":607,"b":677,"l":538.3,"m":545},{"h":538.3,"t":555,"b":659,"l":546,"m":558},{"h":546,"t":468,"b":642,"l":558.3,"m":558.3},{"h":558.3,"t":407,"b":530,"l":575,"m":576},{"h":575,"t":403,"b":408,"l":587,"m":600},{"h":587,"t":400,"b":405,"l":595,"m":610},{"h":576,"t":498,"b":562,"l":585,"m":595},{"h":585,"t":445,"b":551,"l":590,"m":596},{"h":590,"t":416,"b":476,"l":605,"m":598},{"h":598,"t":454,"b":495,"l":601,"m":605},{"h":601,"t":436,"b":469,"l":603,"m":608},{"h":603,"t":430,"b":445,"l":612,"m":615},{"h":612,"t":425,"b":435,"l":620,"m":622},{"h":615,"t":440,"b":450,"l":622,"m":625},{"h":608,"t":455,"b":475,"l":615,"m":625},{"h":605,"t":482,"b":502,"l":610,"m":612},{"h":610,"t":489,"b":515,"l":615,"m":618},{"h":618,"t":495,"b":515,"l":625,"m":628},{"h":596,"t":533,"b":558,"l":600,"m":610},{"h":600,"t":528,"b":550,"l":608,"m":606},{"h":608,"t":525,"b":538,"l":618,"m":622},{"h":606,"t":545,"b":556,"l":618,"m":620},
{"h":558.3,"t":625,"b":658,"l":564,"m":580},{"h":564,"t":596,"b":654,"l":575,"m":578},{"h":575,"t":570,"b":623,"l":581,"m":586},{"h":578,"t":650,"b":658,"l":585,"m":600},{"h":585,"t":642,"b":657,"l":593,"m":610},{"h":593,"t":633,"b":650,"l":600,"m":610},{"h":600,"t":630,"b":640,"l":612,"m":618},{"h":581,"t":565,"b":576,"l":597,"m":597},{"h":597,"t":568,"b":584,"l":607,"m":607},{"h":607,"t":575,"b":590,"l":612,"m":620},{"h":586,"t":617,"b":625,"l":592,"m":605},{"h":592,"t":616,"b":623,"l":600,"m":610},{"h":600,"t":612,"b":620,"l":610,"m":618},{"h":610,"t":600,"b":615,"l":620,"m":625},
{"h":545,"t":670,"b":683,"l":569,"m":571},{"h":569,"t":662,"b":677,"l":576.7,"m":590},{"h":576.7,"t":660,"b":667,"l":610,"m":615},{"h":590,"t":672,"b":680,"l":600,"m":612},{"h":571,"t":680,"b":687,"l":585.7,"m":590},{"h":585.7,"t":682,"b":691,"l":610,"m":618}
],
"colNodes":[
{"h":57,"t":269,"b":388,"l":187.5,"m":199},{"h":187.5,"t":245,"b":293.7,"l":211.5,"m":195},{"h":211.5,"t":234,"b":256,"l":234,"m":234},{"h":195,"t":277,"b":309.7,"l":234,"m":216.3},{"h":216.3,"t":298.7,"b":320.3,"l":234,"m":234},{"h":199,"t":356,"b":420,"l":216,"m":213.7},{"h":216,"t":340.7,"b":372,"l":234,"m":227},{"h":227,"t":361.7,"b":382.7,"l":234,"m":234},{"h":213.7,"t":404,"b":435.7,"l":234,"m":221.7},{"h":221.7,"t":425,"b":446.3,"l":234,"m":234},
{"h":58.7,"t":720,"b":838.7,"l":155.3,"m":147},{"h":155.3,"t":696,"b":743.3,"l":214,"m":195},{"h":214,"t":685,"b":707,"l":234.7,"m":234.7},{"h":195,"t":727.3,"b":759.3,"l":234.7,"m":211},{"h":211,"t":748.7,"b":770,"l":234.7,"m":234.7},{"h":147,"t":807,"b":870,"l":212,"m":194.7},{"h":212,"t":791,"b":822.7,"l":234.7,"m":219},{"h":219,"t":812.3,"b":833.7,"l":234.7,"m":234.7},{"h":194.7,"t":854,"b":886.3,"l":234.7,"m":212.3},{"h":212.3,"t":875.7,"b":897,"l":234.7,"m":234.7}
],
"brackets":[{"h":704,"t":222.3,"b":261.3,"l":697,"m":697},{"h":704,"t":266.7,"b":325,"l":697,"m":697},{"h":704,"t":330.3,"b":388.7,"l":697,"m":697},{"h":704,"t":393.7,"b":452.3,"l":697,"m":697},{"h":704,"t":676.7,"b":716,"l":697,"m":697},{"h":704,"t":721,"b":779.3,"l":697,"m":697},{"h":704,"t":784.7,"b":843.3,"l":697,"m":697},{"h":704,"t":848.3,"b":899,"l":697,"m":697}],
"groupLabels":[{"t":"0 h","x":241.7},{"t":"24 h","x":296},{"t":"12 h","x":360},{"t":"2 h","x":423},{"t":"0 h","x":695},{"t":"24 h","x":751},{"t":"12 h","x":814},{"t":"2 h","x":877}],
"key":[{"v":-6.15,"x":81,"x2":85},{"v":-5.66,"x":85,"x2":88},{"v":-5.17,"x":88,"x2":92},{"v":-4.68,"x":92,"x2":95},{"v":-4.19,"x":95,"x2":99},{"v":-3.7,"x":99,"x2":102},{"v":-3.21,"x":102,"x2":106},{"v":-2.72,"x":106,"x2":109},{"v":-2.23,"x":109,"x2":113},{"v":-1.74,"x":113,"x2":116},{"v":-1.25,"x":116,"x2":120},{"v":-0.76,"x":120,"x2":123},{"v":-0.27,"x":123,"x2":127},{"v":0.22,"x":127,"x2":130},{"v":0.71,"x":130,"x2":134},{"v":1.2,"x":134,"x2":137},{"v":1.69,"x":137,"x2":141},{"v":2.18,"x":141,"x2":144},{"v":2.67,"x":144,"x2":148},{"v":3.16,"x":148,"x2":151},{"v":3.65,"x":151,"x2":155},{"v":4.14,"x":155,"x2":158},{"v":4.63,"x":158,"x2":162},{"v":5.12,"x":162,"x2":165},{"v":5.61,"x":165,"x2":169},{"v":6.1,"x":169,"x2":172},{"v":6.59,"x":172,"x2":176},{"v":7.08,"x":176,"x2":179}],
"keyTicks":[{"x":82.7,"y":151,"y2":161},{"x":97,"y":151,"y2":161},{"x":111.3,"y":151,"y2":161},{"x":125.7,"y":151,"y2":161},{"x":140,"y":151,"y2":161},{"x":154.7,"y":151,"y2":161},{"x":169.3,"y":151,"y2":161}]
},
"layer":[
{"data":{"name":"cellsA"},"transform":[{"lookup":"c","from":{"data":{"name":"colsA"},"key":"c","fields":["x","x2"]}},{"lookup":"r","from":{"data":{"name":"bandsA"},"key":"r","fields":["y","y2"]}}],"mark":{"type":"rect","strokeWidth":0.6},"encoding":{"x":{"field":"x","type":"quantitative","scale":{"domain":[0,899],"nice":false,"zero":false}},"x2":{"field":"x2"},"y":{"field":"y","type":"quantitative","scale":{"domain":[726,0],"nice":false,"zero":false}},"y2":{"field":"y2"},"color":{"field":"v","type":"quantitative","scale":{"domain":[-6.2,0,7.4],"range":["#ff0000","#000000","#00ff00"],"clamp":true,"interpolate":"rgb"}},"stroke":{"field":"v","type":"quantitative","scale":{"domain":[-6.2,0,7.4],"range":["#ff0000","#000000","#00ff00"],"clamp":true,"interpolate":"rgb"}}}},
{"data":{"name":"cellsB"},"transform":[{"lookup":"c","from":{"data":{"name":"colsB"},"key":"c","fields":["x","x2"]}},{"lookup":"r","from":{"data":{"name":"bandsB"},"key":"r","fields":["y","y2"]}}],"mark":{"type":"rect","strokeWidth":0.6},"encoding":{"x":{"field":"x","type":"quantitative"},"x2":{"field":"x2"},"y":{"field":"y","type":"quantitative"},"y2":{"field":"y2"},"color":{"field":"v","type":"quantitative","scale":{"domain":[-6.2,0,7.4],"range":["#ff0000","#000000","#00ff00"],"clamp":true,"interpolate":"rgb"}},"stroke":{"field":"v","type":"quantitative","scale":{"domain":[-6.2,0,7.4],"range":["#ff0000","#000000","#00ff00"],"clamp":true,"interpolate":"rgb"}}}},
{"data":{"name":"stripesA"},"mark":{"type":"rule","color":"#000000","strokeWidth":1,"opacity":0.25},"encoding":{"y":{"field":"y","type":"quantitative"},"x":{"datum":222},"x2":{"datum":455}}},
{"data":{"name":"stripesB"},"mark":{"type":"rule","color":"#000000","strokeWidth":1,"opacity":0.25},"encoding":{"y":{"field":"y","type":"quantitative"},"x":{"datum":675},"x2":{"datum":899}}},
{"data":{"name":"key"},"mark":{"type":"rect","strokeWidth":0.6},"encoding":{"x":{"field":"x","type":"quantitative"},"x2":{"field":"x2"},"y":{"datum":83},"y2":{"datum":151},"color":{"field":"v","type":"quantitative","scale":{"domain":[-6.2,0,7.4],"range":["#ff0000","#000000","#00ff00"],"clamp":true,"interpolate":"rgb"}},"stroke":{"field":"v","type":"quantitative","scale":{"domain":[-6.2,0,7.4],"range":["#ff0000","#000000","#00ff00"],"clamp":true,"interpolate":"rgb"}}}},
{"data":{"name":"sideA"},"transform":[{"calculate":"'a'","as":"p"},{"lookup":"p","from":{"data":{"name":"sidePos"},"key":"p","fields":["x","x2"]}}],"mark":{"type":"rect"},"encoding":{"x":{"field":"x","type":"quantitative"},"x2":{"field":"x2"},"y":{"field":"y","type":"quantitative"},"y2":{"field":"y2"},"color":{"field":"m","type":"quantitative","scale":{"domain":[0,1,2,3,4,5],"range":["#9020e0","#2040ff","#0090ff","#00f0ff","#00ffc0","#00ff70"],"interpolate":"rgb"}}}},
{"data":{"name":"sideB"},"transform":[{"calculate":"'b'","as":"p"},{"lookup":"p","from":{"data":{"name":"sidePos"},"key":"p","fields":["x","x2"]}}],"mark":{"type":"rect"},"encoding":{"x":{"field":"x","type":"quantitative"},"x2":{"field":"x2"},"y":{"field":"y","type":"quantitative"},"y2":{"field":"y2"},"color":{"field":"m","type":"quantitative","scale":{"domain":[0,1,2,3,4,5],"range":["#9020e0","#2040ff","#0090ff","#00f0ff","#00ffc0","#00ff70"],"interpolate":"rgb"}}}},
{"data":{"name":"massA"},"mark":{"type":"area","orient":"horizontal","color":"black"},"encoding":{"y":{"field":"y","type":"quantitative"},"x":{"field":"x","type":"quantitative"},"x2":{"datum":190}}},
{"data":{"name":"massB"},"mark":{"type":"area","orient":"horizontal","color":"black"},"encoding":{"y":{"field":"y","type":"quantitative"},"x":{"field":"x","type":"quantitative"},"x2":{"datum":644}}},
{"data":{"name":"rowNodes"},"mark":{"type":"rule","color":"#1a1a1a","strokeWidth":1.3},"encoding":{"x":{"field":"h","type":"quantitative"},"y":{"field":"t","type":"quantitative"},"y2":{"field":"b"}}},
{"data":{"name":"rowNodes"},"mark":{"type":"rule","color":"#1a1a1a","strokeWidth":1.3},"encoding":{"x":{"field":"h","type":"quantitative"},"x2":{"field":"l"},"y":{"field":"t","type":"quantitative"}}},
{"data":{"name":"rowNodes"},"mark":{"type":"rule","color":"#1a1a1a","strokeWidth":1.3},"encoding":{"x":{"field":"h","type":"quantitative"},"x2":{"field":"m"},"y":{"field":"b","type":"quantitative"}}},
{"data":{"name":"colNodes"},"mark":{"type":"rule","color":"#111111","strokeWidth":1.6},"encoding":{"y":{"field":"h","type":"quantitative"},"x":{"field":"t","type":"quantitative"},"x2":{"field":"b"}}},
{"data":{"name":"colNodes"},"mark":{"type":"rule","color":"#111111","strokeWidth":1.6},"encoding":{"y":{"field":"h","type":"quantitative"},"y2":{"field":"l"},"x":{"field":"t","type":"quantitative"}}},
{"data":{"name":"colNodes"},"mark":{"type":"rule","color":"#111111","strokeWidth":1.6},"encoding":{"y":{"field":"h","type":"quantitative"},"y2":{"field":"m"},"x":{"field":"b","type":"quantitative"}}},
{"data":{"name":"brackets"},"mark":{"type":"rule","color":"#808080","strokeWidth":1},"encoding":{"y":{"field":"h","type":"quantitative"},"x":{"field":"t","type":"quantitative"},"x2":{"field":"b"}}},
{"data":{"name":"brackets"},"mark":{"type":"rule","color":"#808080","strokeWidth":1},"encoding":{"y":{"field":"h","type":"quantitative"},"y2":{"field":"l"},"x":{"field":"t","type":"quantitative"}}},
{"data":{"name":"brackets"},"mark":{"type":"rule","color":"#808080","strokeWidth":1},"encoding":{"y":{"field":"h","type":"quantitative"},"y2":{"field":"m"},"x":{"field":"b","type":"quantitative"}}},
{"data":{"values":[{"x":222,"x2":330,"y":695}]},"mark":{"type":"rule","color":"#e08a8a","strokeWidth":1.2},"encoding":{"x":{"field":"x","type":"quantitative"},"x2":{"field":"x2"},"y":{"field":"y","type":"quantitative"}}},
{"data":{"values":[{"x":81,"x2":179,"y":83,"y2":151}]},"mark":{"type":"rect","fill":null,"stroke":"#333333","strokeWidth":0.8},"encoding":{"x":{"field":"x","type":"quantitative"},"x2":{"field":"x2"},"y":{"field":"y","type":"quantitative"},"y2":{"field":"y2"}}},
{"data":{"name":"keyTicks"},"mark":{"type":"rule","color":"#222222","strokeWidth":1.1},"encoding":{"x":{"field":"x","type":"quantitative"},"y":{"field":"y","type":"quantitative"},"y2":{"field":"y2"}}},
{"data":{"values":[{"x":81,"x2":179,"y":151}]},"mark":{"type":"rule","color":"#222222","strokeWidth":1.1},"encoding":{"x":{"field":"x","type":"quantitative"},"x2":{"field":"x2"},"y":{"field":"y","type":"quantitative"}}},
{"data":{"name":"groupLabels"},"mark":{"type":"text","font":"Lato","fontSize":13,"color":"#222222","align":"center","baseline":"alphabetic"},"encoding":{"text":{"field":"t"},"x":{"field":"x","type":"quantitative"},"y":{"datum":722}}},
{"data":{"values":[{"t":"(a)","x":9,"y":27},{"t":"(b)","x":481,"y":27}]},"mark":{"type":"text","font":"Liberation Serif","fontSize":22,"color":"#222222","align":"left","baseline":"alphabetic"},"encoding":{"text":{"field":"t"},"x":{"field":"x","type":"quantitative"},"y":{"field":"y","type":"quantitative"}}},
{"data":{"values":[{"t":"Color Key","x":130,"y":72}]},"mark":{"type":"text","font":"Liberation Sans","fontWeight":"bold","fontSize":18,"color":"#111111","align":"center","baseline":"alphabetic"},"encoding":{"text":{"field":"t"},"x":{"field":"x","type":"quantitative"},"y":{"field":"y","type":"quantitative"}}},
{"data":{"values":[{"t":"Value","x":130,"y":202}]},"mark":{"type":"text","font":"Liberation Sans","fontSize":19.5,"color":"#222222","align":"center","baseline":"alphabetic"},"encoding":{"text":{"field":"t"},"x":{"field":"x","type":"quantitative"},"y":{"field":"y","type":"quantitative"}}},
{"data":{"values":[{"t":"−6","x":82.5,"y":182},{"t":"0","x":125.7,"y":182},{"t":"4","x":154.7,"y":182}]},"mark":{"type":"text","font":"Liberation Sans","fontSize":12.5,"color":"#222222","align":"center","baseline":"alphabetic"},"encoding":{"text":{"field":"t"},"x":{"field":"x","type":"quantitative"},"y":{"field":"y","type":"quantitative"}}}
]}
